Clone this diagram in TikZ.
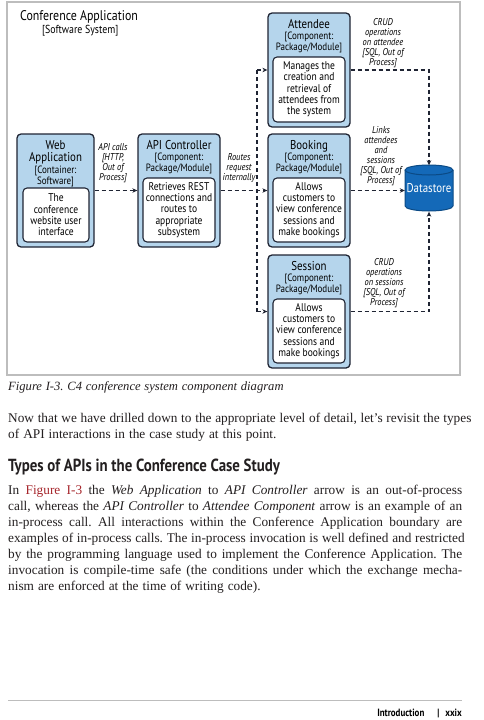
\documentclass[tikz,border=0pt]{standalone}
\usepackage{fontspec}
\setmainfont{Liberation Serif}
\newfontfamily\dg[FakeStretch=0.85]{PT Sans}
\usetikzlibrary{arrows.meta}
\definecolor{boxblue}{HTML}{B5D5EC}
\definecolor{edgec}{HTML}{1F2433}
\definecolor{dsblue}{HTML}{1469B8}
\definecolor{dsedge}{HTML}{0B4A85}
\definecolor{framec}{HTML}{BDBDBD}
\definecolor{figred}{HTML}{A6252B}
\definecolor{textc}{HTML}{231F20}
\frenchspacing
\newcommand\bodyfont{\fontsize{13.3}{16}\selectfont\spaceskip=0.3em plus 1em minus 0.02em\relax}
\newcommand\capfont{\itshape\fontsize{12.6}{14}\selectfont\spaceskip=0.3em plus 1em\relax}
\begin{document}
\begin{tikzpicture}[x=1pt,y=-1pt,
  comp/.style={draw=edgec, fill=boxblue, line width=1.3pt, rounded corners=4pt, inner sep=0, minimum width=82pt, minimum height=113pt},
  desc/.style={draw=edgec, fill=white, line width=1.1pt, rounded corners=4pt, inner sep=0, align=center, minimum width=72pt, minimum height=64pt, font=\dg\fontsize{11.2}{11.3}\selectfont},
  ttl/.style={inner sep=0, align=center, font=\dg\fontsize{12.8}{12}\selectfont},
  sub/.style={inner sep=0, align=center, anchor=north, font=\dg\fontsize{10.6}{9.6}\selectfont},
  lbl/.style={inner sep=0, align=center, font=\dg\itshape\fontsize{9.9}{10}\selectfont},
  flow/.style={dash pattern=on 4pt off 3pt, line width=1.1pt, draw=edgec, -{Stealth[length=5pt,width=4.5pt]}},
  bus/.style={dash pattern=on 4pt off 3pt, line width=1.1pt, draw=edgec},
  bodyline/.style={anchor=base west, inner sep=0, text=textc, font=\bodyfont},
]
\useasboundingbox (0,0) rectangle (484,720);
\fill[white] (0,0) rectangle (484,720);

% frame
\draw[framec, line width=1.2pt] (7,2) rectangle (460,375);
\node[anchor=base west, inner sep=0, font=\dg\fontsize{14}{14}\selectfont] (sysT) at (20,20) {Conference Application};
\node[anchor=base west, inner sep=0, font=\dg\fontsize{11.6}{12}\selectfont] (sysS) at (42,33.5) {[Software System]};

% Web application
\node[comp, minimum width=77pt] (web) at (55.5,190.5) {};
\node[ttl, anchor=north] (webT) at (55.5,140.5) {Web\\Application};
\node[sub] (webS) at (55.5,165.5) {[Container:\\Software]};
\node[desc, minimum width=66pt, minimum height=54pt] (webD) at (56,215) {The\\conference\\website user\\interface};

% API controller
\node[comp] (api) at (179,190.5) {};
\node[ttl, anchor=base] (apiT) at (179,149.5) {API Controller};
\node[sub] (apiS) at (179,152.5) {[Component:\\Package/Module]};
\node[desc] (apiD) at (179,210) {Retrieves REST\\connections and\\routes to\\appropriate\\subsystem};

% Attendee
\node[comp, minimum height=114pt] (att) at (309,70) {};
\node[ttl, anchor=base] (attT) at (309,28) {Attendee};
\node[sub] (attS) at (309,31.5) {[Component:\\Package/Module]};
\node[desc, minimum height=65pt] (attD) at (309,89.5) {Manages the\\creation and\\retrieval of\\attendees from\\the system};

% Booking
\node[comp] (bok) at (309,190.5) {};
\node[ttl, anchor=base] (bokT) at (309,149) {Booking};
\node[sub] (bokS) at (309,152.5) {[Component:\\Package/Module]};
\node[desc] (bokD) at (309,210) {Allows\\customers to\\view conference\\sessions and\\make bookings};

% Session
\node[comp] (ses) at (309,311.5) {};
\node[ttl, anchor=base] (sesT) at (309,270) {Session};
\node[sub] (sesS) at (309,273.5) {[Component:\\Package/Module]};
\node[desc] (sesD) at (309,331) {Allows\\customers to\\view conference\\sessions and\\make bookings};

% Datastore cylinder
\fill[dsblue] (405,170) -- (405,206) arc (180:360:24pt and 5pt) -- (453,170) arc (0:180:24pt and 5pt) -- cycle;
\draw[dsedge, line width=1pt] (405,170) -- (405,206) arc (180:360:24pt and 5pt) -- (453,170);
\draw[dsedge, line width=1pt] (429,170) ellipse [x radius=24pt, y radius=5pt];
\node[inner sep=0, minimum width=48pt, minimum height=46pt, text=white, font=\dg\fontsize{12.8}{12}\selectfont] (ds) at (429,188.5) {Datastore};

% connectors
\coordinate (busTop) at (257,70);
\coordinate (busBot) at (257,311.5);
\draw[flow] (web.east) -- (api.west);
\draw[flow] (api.east) -- (bok.west);
\draw[bus] (busTop) -- (busBot);
\draw[flow] (busTop) -- (att.west);
\draw[flow] (busBot) -- (ses.west);
\draw[flow] (att.east) -| (ds.north);
\draw[flow] (bok.east) -- (bok.east -| ds.west);
\draw[flow] (ses.east) -| (ds.south);

% labels
\node[lbl] (l1) at (113,163.5) {API calls\\{[}HTTP,\\Out of\\Process]};
\node[lbl] (l2) at (239,168) {Routes\\request\\internally};
\node[lbl] (l3) at (383,43.5) {CRUD\\operations\\on attendee\\{[}SQL, Out of\\Process]};
\node[lbl] (l4) at (381,156.5) {Links\\attendees\\and\\sessions\\{[}SQL, Out of\\Process]};
\node[lbl] (l5) at (384,283.5) {CRUD\\operations\\on sessions\\{[}SQL, Out of\\Process]};

% text below
\node[bodyline, font=\capfont] (cap) at (8,390.5) {Figure I-3. C4 conference system component diagram};
\node[bodyline] (p1a) at (8,422.5) {\makebox[454pt][s]{Now that we have drilled down to the appropriate level of detail, let’s revisit the types}};
\node[bodyline] (p1b) at (8,438.5) {of API interactions in the case study at this point.};
\node[bodyline, font=\dg\bfseries\fontsize{17.5}{18}\selectfont] (hd) at (8,471.5) {Types of APIs in the Conference Case Study};
\node[bodyline] (b1) at (8,494.5) {\makebox[454pt][s]{In \textcolor{figred}{Figure I-3} the \textit{Web Application} to \textit{API Controller} arrow is an out-of-process}};
\node[bodyline] (b2) at (8,510.5) {\makebox[454pt][s]{call, whereas the \textit{API Controller} to \textit{Attendee Component} arrow is an example of an}};
\node[bodyline] (b3) at (8,526.5) {\makebox[454pt][s]{in-process call. All interactions within the Conference Application boundary are}};
\node[bodyline] (b4) at (8,542.5) {\makebox[454pt][s]{examples of in-process calls. The in-process invocation is well defined and restricted}};
\node[bodyline] (b5) at (8,558.5) {\makebox[454pt][s]{by the programming language used to implement the Conference Application. The}};
\node[bodyline] (b6) at (8,574.5) {\makebox[454pt][s]{invocation is compile-time safe (the conditions under which the exchange mecha-}};
\node[bodyline] (b7) at (8,590.5) {nism are enforced at the time of writing code).};

% footer
\draw[framec, line width=0.8pt] (8,700) -- (462,700);
\node[anchor=base east, inner sep=0, font=\dg\bfseries\fontsize{10.5}{12}\selectfont] (ft) at (462,716) {Introduction\hspace{13pt}|\hspace{6pt}xxix};
\end{tikzpicture}
\end{document}
